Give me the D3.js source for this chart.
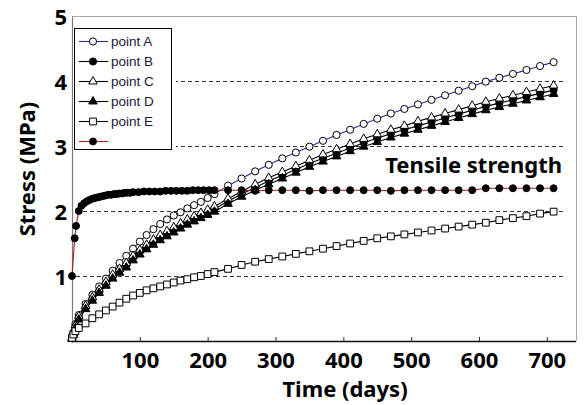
<!DOCTYPE html>
<html>
<head>
<meta charset="utf-8">
<script src="https://cdn.jsdelivr.net/npm/d3@7"></script>
<style>
  html, body { margin: 0; padding: 0; background: #fff; }
  svg { display: block; }
</style>
</head>
<body>
<svg id="chart" width="585" height="405"></svg>
<script>
// Sampling days for the five measuring points (days)
const days = [0, 2, 5, 10, 20, 30, 40, 50, 60, 70, 80, 90, 100, 110, 120, 130, 140, 150, 160, 170, 180, 190, 200, 210,
  230, 250, 270, 290, 310, 330, 350, 370, 390, 410, 430, 450, 470, 490, 510, 530, 550, 570, 590, 610, 630, 650, 670, 690, 710];

// Stress at each measuring point (MPa)
const pointA = [0.05, 0.13, 0.26, 0.40, 0.57, 0.71, 0.84, 0.96, 1.08, 1.20, 1.31, 1.42, 1.53, 1.63, 1.72, 1.80, 1.87, 1.93, 1.98, 2.04, 2.09, 2.14, 2.20, 2.26,
  2.39, 2.50, 2.61, 2.71, 2.81, 2.90, 2.99, 3.08, 3.17, 3.25, 3.34, 3.42, 3.50, 3.57, 3.64, 3.71, 3.78, 3.85, 3.92, 3.99, 4.05, 4.11, 4.17, 4.23, 4.29];
const pointB = [0.04, 0.11, 0.22, 0.36, 0.52, 0.65, 0.77, 0.88, 0.99, 1.08, 1.17, 1.28, 1.37, 1.45, 1.52, 1.59, 1.65, 1.71, 1.77, 1.83, 1.88, 1.93, 1.98, 2.03,
  2.15, 2.26, 2.36, 2.46, 2.55, 2.64, 2.73, 2.81, 2.89, 2.97, 3.05, 3.12, 3.19, 3.25, 3.31, 3.37, 3.43, 3.49, 3.55, 3.61, 3.66, 3.71, 3.76, 3.81, 3.86];
const pointC = [0.05, 0.12, 0.24, 0.38, 0.54, 0.67, 0.79, 0.91, 1.02, 1.11, 1.20, 1.31, 1.40, 1.48, 1.56, 1.63, 1.69, 1.75, 1.81, 1.87, 1.92, 1.97, 2.02, 2.07,
  2.19, 2.30, 2.41, 2.51, 2.60, 2.69, 2.78, 2.87, 2.95, 3.03, 3.11, 3.18, 3.25, 3.31, 3.38, 3.44, 3.50, 3.56, 3.62, 3.68, 3.73, 3.78, 3.83, 3.88, 3.93];
const pointD = [0.03, 0.09, 0.20, 0.33, 0.49, 0.62, 0.74, 0.85, 0.96, 1.05, 1.13, 1.24, 1.33, 1.41, 1.48, 1.55, 1.61, 1.67, 1.73, 1.79, 1.84, 1.89, 1.94, 1.99,
  2.11, 2.22, 2.32, 2.41, 2.50, 2.59, 2.68, 2.76, 2.84, 2.92, 2.99, 3.06, 3.13, 3.19, 3.25, 3.31, 3.37, 3.43, 3.49, 3.55, 3.60, 3.65, 3.70, 3.75, 3.80];
const pointE = [0.05, 0.10, 0.15, 0.20, 0.27, 0.35, 0.41, 0.47, 0.53, 0.59, 0.65, 0.70, 0.74, 0.78, 0.81, 0.84, 0.87, 0.90, 0.93, 0.95, 0.98, 1.00, 1.03, 1.06,
  1.11, 1.17, 1.22, 1.26, 1.30, 1.34, 1.38, 1.42, 1.46, 1.50, 1.54, 1.58, 1.61, 1.64, 1.67, 1.70, 1.73, 1.76, 1.79, 1.82, 1.86, 1.89, 1.92, 1.96, 1.99];

// Tensile strength development (days, MPa)
const strengthDays = [0, 4, 6, 10, 14, 18, 22, 26, 30, 34, 38, 42, 46, 50, 54, 58, 62, 66, 70, 74, 78, 82, 86, 90,
  98, 106, 114, 122, 130, 138, 146, 154, 162, 170, 178, 186, 194, 202, 210,
  230, 250, 270, 290, 310, 330, 350, 370, 390, 410, 430, 450, 470, 490, 510, 530, 550, 570, 590,
  610, 630, 650, 670, 690, 710];
const strengthValues = [1.00, 1.58, 1.77, 2.00, 2.08, 2.12, 2.15, 2.17, 2.19, 2.20, 2.21, 2.22, 2.23, 2.24, 2.25, 2.25, 2.26, 2.26, 2.27, 2.27, 2.28, 2.28, 2.28, 2.29,
  2.29, 2.30, 2.30, 2.30, 2.30, 2.31, 2.31, 2.31, 2.31, 2.31, 2.32, 2.32, 2.32, 2.32, 2.32,
  2.32, 2.32, 2.31, 2.32, 2.32, 2.32, 2.31, 2.32, 2.32, 2.32, 2.32, 2.32, 2.31, 2.32, 2.32, 2.32, 2.32, 2.32, 2.32,
  2.35, 2.35, 2.35, 2.35, 2.35, 2.35];

const legendLabels = ["point A", "point B", "point C", "point D", "point E", ""];
const xTickValues = [100, 200, 300, 400, 500, 600, 700];
const yTickValues = [1, 2, 3, 4, 5];
const gridValues = [1, 2, 3, 4];

const FONT = "'Noto Sans', 'DejaVu Sans', sans-serif";

const svg = d3.select("#chart");
const x = d3.scaleLinear().domain([0, 743]).range([72, 576]);
const y = d3.scaleLinear().domain([0, 5]).range([341, 16]);

// Line colour and marker style per series
const series = [
  { name: legendLabels[0], xs: days, ys: pointA, line: "#2c2ca0", symbol: d3.symbolCircle, size: 40, fill: "#fff" },
  { name: legendLabels[1], xs: days, ys: pointB, line: "#000", symbol: d3.symbolCircle, size: 40, fill: "#000" },
  { name: legendLabels[2], xs: days, ys: pointC, line: "#000", symbol: d3.symbolTriangle, size: 32, fill: "#fff" },
  { name: legendLabels[3], xs: days, ys: pointD, line: "#000", symbol: d3.symbolTriangle, size: 32, fill: "#000" },
  { name: legendLabels[4], xs: days, ys: pointE, line: "#000", symbol: d3.symbolSquare, size: 46, fill: "#fff" },
  { name: legendLabels[5], xs: strengthDays, ys: strengthValues, line: "#a52020", symbol: d3.symbolCircle, size: 38, fill: "#000" }
];

// Dashed horizontal reference lines
svg.append("g").selectAll("line").data(gridValues).join("line")
  .attr("x1", 76).attr("x2", 564)
  .attr("y1", d => Math.round(y(d)) + 0.5).attr("y2", d => Math.round(y(d)) + 0.5)
  .attr("stroke", "#333").attr("stroke-width", 1).attr("stroke-dasharray", "4,3");

// Plot frame
const frame = svg.append("g").attr("shape-rendering", "crispEdges");
frame.append("line").attr("x1", 72).attr("x2", 576).attr("y1", 16.5).attr("y2", 16.5).attr("stroke", "#a8a8a8");
frame.append("line").attr("x1", 576.5).attr("x2", 576.5).attr("y1", 16).attr("y2", 341).attr("stroke", "#a8a8a8");

// X axis
const xAxis = svg.append("g").attr("transform", "translate(0,341)")
  .call(d3.axisBottom(x).tickValues(xTickValues).tickSize(-4).tickPadding(11).tickFormat(d3.format("d")));
xAxis.select(".domain").attr("stroke", "#111").attr("stroke-width", 1.4).attr("d", "M72,0.5H576");
xAxis.selectAll(".tick line").attr("stroke", "#333");
xAxis.selectAll("text").attr("font-family", FONT).attr("font-size", 22).attr("font-weight", "bold").attr("fill", "#000");

// Y axis
const yAxis = svg.append("g").attr("transform", "translate(72,0)")
  .call(d3.axisLeft(y).tickValues(yTickValues).tickSize(0).tickPadding(5).tickFormat(d3.format("d")));
yAxis.select(".domain").attr("stroke", "#7a7a7a").attr("stroke-width", 1.2);
yAxis.selectAll("text").attr("font-family", FONT).attr("font-size", 22).attr("font-weight", "bold")
  .attr("fill", "#000").attr("dy", "0.38em");

// Axis titles
svg.append("text").attr("x", 345).attr("y", 397).attr("text-anchor", "middle")
  .attr("font-family", FONT).attr("font-size", 22).attr("font-weight", "bold").text("Time (days)");
svg.append("text").attr("transform", "translate(35,169) rotate(-90)").attr("text-anchor", "middle")
  .attr("font-family", FONT).attr("font-size", 22).attr("font-weight", "bold").text("Stress (MPa)");

// Series lines, then markers on top
const plot = svg.append("g");
series.forEach(s => {
  const pts = s.xs.map((d, i) => [d, s.ys[i]]);
  plot.append("path").datum(pts)
    .attr("d", d3.line().x(p => x(p[0])).y(p => y(p[1])))
    .attr("fill", "none").attr("stroke", s.line).attr("stroke-width", 1.1);
});
series.forEach(s => {
  const pts = s.xs.map((d, i) => [d, s.ys[i]]);
  plot.append("g").selectAll("path").data(pts).join("path")
    .attr("transform", p => `translate(${x(p[0])},${y(p[1])})`)
    .attr("d", d3.symbol(s.symbol, s.size))
    .attr("fill", s.fill).attr("stroke", "#000").attr("stroke-width", 1);
});

// Annotation
svg.append("text").attr("x", 562).attr("y", 173).attr("text-anchor", "end")
  .attr("font-family", FONT).attr("font-size", 22).attr("font-weight", "bold").text("Tensile strength");

// Legend
const legend = svg.append("g");
legend.append("rect").attr("x", 73).attr("y", 27).attr("width", 103).attr("height", 125).attr("fill", "#fff");
legend.append("rect").attr("x", 74.5).attr("y", 28.5).attr("width", 97).attr("height", 121)
  .attr("fill", "none").attr("stroke", "#000").attr("stroke-width", 1).attr("shape-rendering", "crispEdges");
const entries = legend.selectAll("g.entry").data(series).join("g")
  .attr("class", "entry").attr("transform", (d, i) => `translate(0,${41 + i * 20})`);
entries.append("line").attr("x1", 79).attr("x2", 108).attr("y1", 0.5).attr("y2", 0.5)
  .attr("stroke", d => d.line).attr("stroke-width", 1.1);
entries.append("path").attr("transform", "translate(93,0.5)")
  .attr("d", d => d3.symbol(d.symbol, d.size)())
  .attr("fill", d => d.fill).attr("stroke", "#000").attr("stroke-width", 1);
entries.append("text").attr("x", 111).attr("y", 0).attr("dy", "0.36em")
  .attr("font-family", "'Liberation Sans', Arial, sans-serif").attr("font-size", 13.5).attr("fill", "#1a1a3a")
  .text(d => d.name);
</script>
</body>
</html>
